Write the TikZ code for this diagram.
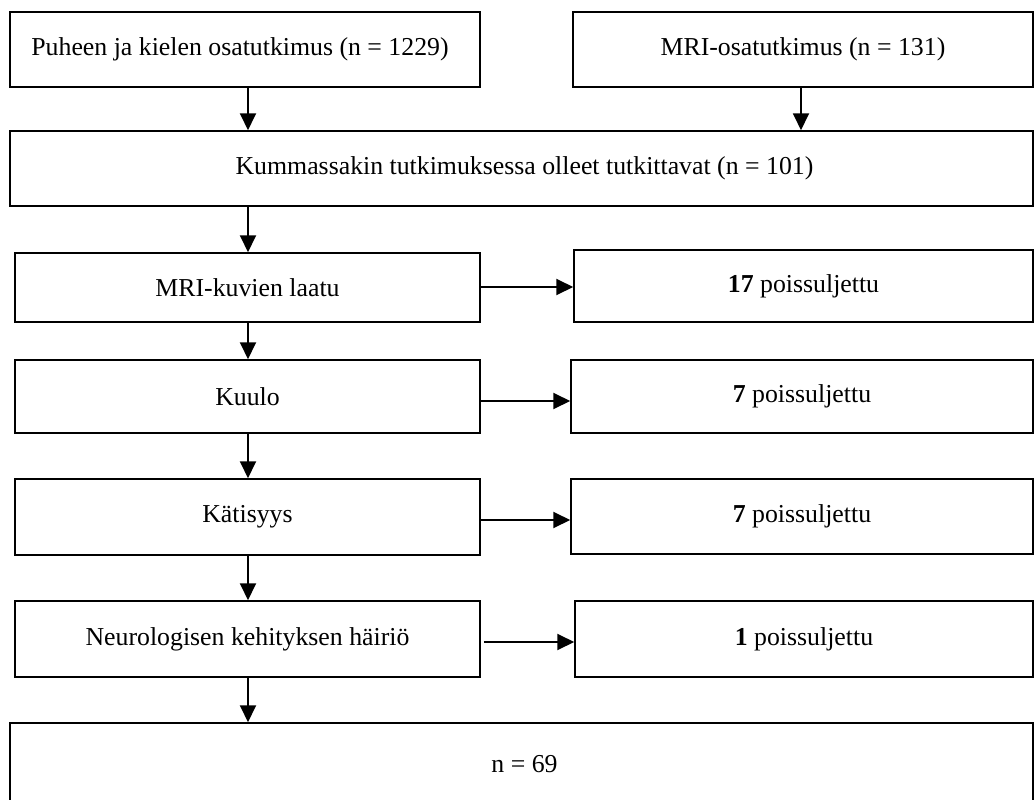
\documentclass[tikz,border=0pt]{standalone}
\usepackage{fontspec}
\setmainfont{Liberation Serif}
\usetikzlibrary{arrows.meta}
\tikzset{
  box/.style={draw=black, line width=1.5pt, rectangle, inner sep=0pt, fill=white,
    font=\fontsize{25.8}{30}\selectfont},
  arr/.style={draw=black, line width=1.9pt, -{Triangle[length=17pt,width=16pt]}}
}
\begin{document}
\begin{tikzpicture}[x=1pt,y=-1pt]
\useasboundingbox[fill=white] (0,0) rectangle (1034,800);
\begin{scope}
\clip (0,0) rectangle (1034,800);
\node[box, minimum width=470pt, minimum height=75pt] (top1) at (245,49.5) {Puheen ja kielen osatutkimus (n = 1229)\hspace*{10pt}};
\node[box, minimum width=460pt, minimum height=75pt] (top2) at (803,49.5) {MRI-osatutkimus (n = 131)};
\node[box, minimum width=1023pt, minimum height=75pt] (wide) at (521.5,168.5) {\hspace*{6pt}Kummassakin tutkimuksessa olleet tutkittavat (n = 101)};
\node[box, minimum width=465pt, minimum height=69pt] (mri) at (247.5,287.5) {MRI-kuvien laatu};
\node[box, minimum width=459pt, minimum height=72pt] (ex1) at (803.5,286) {\textbf{17} poissuljettu};
\node[box, minimum width=465pt, minimum height=73pt] (kuulo) at (247.5,396.5) {Kuulo};
\node[box, minimum width=462pt, minimum height=73pt] (ex2) at (802,396.5) {\textbf{7} poissuljettu};
\node[box, minimum width=465pt, minimum height=76pt] (kat) at (247.5,517) {Kätisyys};
\node[box, minimum width=462pt, minimum height=75pt] (ex3) at (802,516.5) {\textbf{7} poissuljettu};
\node[box, minimum width=465pt, minimum height=76pt] (neuro) at (247.5,639) {Neurologisen kehityksen häiriö};
\node[box, minimum width=458pt, minimum height=76pt] (ex4) at (804,639) {\textbf{1} poissuljettu};
\node[box, minimum width=1023pt, minimum height=82pt] (final) at (521.5,764) {\hspace*{6pt}n = 69};
\end{scope}
\coordinate (ax) at (248,0);
\coordinate (bx) at (801,0);
\draw[arr] (top1.south -| ax) -- (wide.north -| ax);
\draw[arr] (top2.south -| bx) -- (wide.north -| bx);
\draw[arr] (wide.south -| ax) -- (mri.north -| ax);
\draw[arr] (mri.south -| ax) -- (kuulo.north -| ax);
\draw[arr] (kuulo.south -| ax) -- (kat.north -| ax);
\draw[arr] (kat.south -| ax) -- (neuro.north -| ax);
\draw[arr] (neuro.south -| ax) -- (final.north -| ax);
\draw[arr] ([yshift=0.5pt]mri.east) -- ([yshift=0.5pt]mri.east -| ex1.west);
\draw[arr] ([yshift=-4.5pt]kuulo.east) -- ([yshift=-4.5pt]kuulo.east -| ex2.west);
\draw[arr] ([yshift=-3pt]kat.east) -- ([yshift=-3pt]kat.east -| ex3.west);
\draw[arr] ([xshift=3pt,yshift=-3pt]neuro.east) -- ([yshift=-3pt]neuro.east -| ex4.west);
\end{tikzpicture}
\end{document}
